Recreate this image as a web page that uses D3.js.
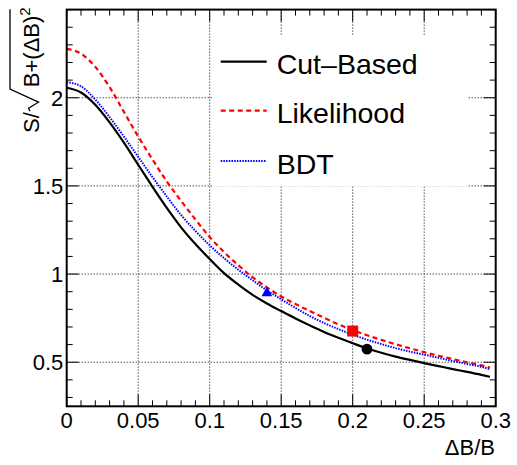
<!DOCTYPE html>
<html>
<head>
<meta charset="utf-8">
<script src="https://cdn.jsdelivr.net/npm/d3@7"></script>
<style>
  html, body { margin: 0; padding: 0; background: #fff; }
  svg { display: block; font-family: "Liberation Sans", Arial, Helvetica, sans-serif; }
</style>
</head>
<body>
<svg id="chart" width="517" height="465"></svg>
<script>
// ---------- data ----------
const xValues = [0, 0.01, 0.02, 0.03, 0.04, 0.05, 0.06, 0.07, 0.08, 0.09, 0.1,
  0.11, 0.12, 0.13, 0.14, 0.15, 0.16, 0.17, 0.18, 0.19, 0.2,
  0.21, 0.22, 0.23, 0.24, 0.25, 0.26, 0.27, 0.28, 0.29, 0.296];
const cutBased = [2.057, 2.03, 1.96, 1.86, 1.745, 1.62, 1.495, 1.375, 1.265, 1.17, 1.085,
  1.005, 0.94, 0.882, 0.833, 0.79, 0.748, 0.709, 0.672, 0.639, 0.608,
  0.578, 0.554, 0.532, 0.513, 0.495, 0.478, 0.461, 0.445, 0.428, 0.417];
const likelihood = [2.277, 2.25, 2.175, 2.06, 1.92, 1.78, 1.65, 1.525, 1.415, 1.31, 1.21,
  1.125, 1.05, 0.982, 0.925, 0.873, 0.83, 0.79, 0.752, 0.715, 0.682,
  0.653, 0.627, 0.602, 0.579, 0.557, 0.537, 0.518, 0.5, 0.482, 0.47];
const bdt = [2.089, 2.065, 1.99, 1.89, 1.78, 1.665, 1.55, 1.44, 1.335, 1.245, 1.163,
  1.09, 1.025, 0.965, 0.908, 0.857, 0.808, 0.762, 0.722, 0.688, 0.656,
  0.628, 0.603, 0.58, 0.56, 0.543, 0.525, 0.507, 0.49, 0.474, 0.46];

const seriesNames = ["Cut\u2013Based", "Likelihood", "BDT"];
const markerX = [0.21, 0.2, 0.14];
const markerY = [0.574, 0.677, 0.898];

const xTicks = [0, 0.05, 0.1, 0.15, 0.2, 0.25, 0.3];
const xTickLabels = ["0", "0.05", "0.1", "0.15", "0.2", "0.25", "0.3"];
const yTicks = [0.5, 1, 1.5, 2];
const yTickLabels = ["0.5", "1", "1.5", "2"];
const xMinorTicks = d3.range(0, 0.3001, 0.01);
const yMinorTicks = d3.range(0.3, 2.5001, 0.1);

// ---------- layout ----------
const svg = d3.select("#chart");
const L = 66.7, R = 495.7, T = 9.6, B = 406.3;
const x = d3.scaleLinear().domain([0, 0.3]).range([L, R]);
const y = d3.scaleLinear().domain([0.25, 2.5]).range([B, T]);

const styles = [
  { color: "#000", dash: null, width: 2.2 },
  { color: "#ff0000", dash: "5,3.5", width: 2.2 },
  { color: "#0000ff", dash: "1.5,1.2", width: 2 }
];

// grid
const grid = svg.append("g");
xTicks.filter(v => v > 0 && v < 0.3).forEach(v => {
  grid.append("line").attr("x1", x(v)).attr("x2", x(v)).attr("y1", T).attr("y2", B)
    .attr("stroke", "#000").attr("stroke-width", 1).attr("stroke-dasharray", "1,2");
});
yTicks.forEach(v => {
  grid.append("line").attr("x1", L).attr("x2", R).attr("y1", y(v)).attr("y2", y(v))
    .attr("stroke", "#000").attr("stroke-width", 1).attr("stroke-dasharray", "1,2");
});

// curves
const line = d3.line().x(d => x(d[0])).y(d => y(d[1])).curve(d3.curveMonotoneX);
[cutBased, likelihood, bdt].forEach((vals, i) => {
  svg.append("path")
    .attr("d", line(xValues.map((xv, j) => [xv, vals[j]])))
    .attr("fill", "none")
    .attr("stroke", styles[i].color)
    .attr("stroke-width", styles[i].width)
    .attr("stroke-dasharray", styles[i].dash);
});

// markers
svg.append("circle").attr("cx", x(markerX[0])).attr("cy", y(markerY[0])).attr("r", 5.4).attr("fill", "#000");
svg.append("rect").attr("x", x(markerX[1]) - 5.5).attr("y", y(markerY[1]) - 5.5)
  .attr("width", 11).attr("height", 11).attr("fill", "#ff0000");
svg.append("path").attr("d", d3.symbol().type(d3.symbolTriangle).size(50)())
  .attr("transform", `translate(${x(markerX[2])},${y(markerY[2]) + 1})`).attr("fill", "#0000ff");

// legend
const lg = svg.append("g");
lg.append("rect").attr("x", 212).attr("y", 35).attr("width", 255).attr("height", 151.5).attr("fill", "#fff");
const legY = [61.7, 110.7, 161];
seriesNames.forEach((name, i) => {
  lg.append("line").attr("x1", 220.7).attr("x2", 266.7).attr("y1", legY[i]).attr("y2", legY[i])
    .attr("stroke", styles[i].color).attr("stroke-width", styles[i].width)
    .attr("stroke-dasharray", styles[i].dash);
  lg.append("text").attr("x", 276.7).attr("y", legY[i] + 12.5)
    .attr("font-size", 28.5).attr("fill", "#000").text(name);
});

// ticks
const ax = svg.append("g").attr("stroke", "#000").attr("stroke-width", 1);
xMinorTicks.forEach(v => {
  const major = xTicks.some(t => Math.abs(t - v) < 1e-6);
  const len = major ? 12 : 6;
  ax.append("line").attr("x1", x(v)).attr("x2", x(v)).attr("y1", B).attr("y2", B - len);
  ax.append("line").attr("x1", x(v)).attr("x2", x(v)).attr("y1", T).attr("y2", T + len);
});
yMinorTicks.forEach(v => {
  const major = yTicks.some(t => Math.abs(t - v) < 1e-6);
  const len = major ? 12 : 6;
  ax.append("line").attr("x1", L).attr("x2", L + len).attr("y1", y(v)).attr("y2", y(v));
  ax.append("line").attr("x1", R).attr("x2", R - len).attr("y1", y(v)).attr("y2", y(v));
});

// frame
svg.append("rect").attr("x", L).attr("y", T).attr("width", R - L).attr("height", B - T)
  .attr("fill", "none").attr("stroke", "#000").attr("stroke-width", 2);

// tick labels
xTicks.forEach((v, i) => {
  svg.append("text").attr("x", x(v)).attr("y", 428.3).attr("text-anchor", "middle")
    .attr("font-size", 22).text(xTickLabels[i]);
});
yTicks.forEach((v, i) => {
  svg.append("text").attr("x", 63.3).attr("y", y(v) + 7.8).attr("text-anchor", "end")
    .attr("font-size", 22).text(yTickLabels[i]);
});

// x title
svg.append("text").attr("x", 495).attr("y", 455).attr("text-anchor", "end")
  .attr("font-size", 22).text("\u0394B/B");

// y title: S/sqrt(B+(ΔB)^2)
const yt = svg.append("g").attr("transform", "translate(38.5,133) rotate(-90)");
const t1 = yt.append("text").attr("x", 0).attr("y", 0).attr("font-size", 22).text("S/");
const w1 = t1.node().getComputedTextLength();
const sx = w1 + 1;
yt.append("path")
  .attr("d", `M${sx},-8.5 L${sx + 3},-10 L${sx + 9},0 L${sx + 22},-28.5 L${sx + 102},-28.5`)
  .attr("fill", "none").attr("stroke", "#000").attr("stroke-width", 1.3);
const t2 = yt.append("text").attr("x", sx + 24).attr("y", 0).attr("font-size", 22);
t2.append("tspan").text("B+(\u0394B)");
t2.append("tspan").attr("dy", -9).attr("font-size", 15).text("2");
</script>
</body>
</html>
